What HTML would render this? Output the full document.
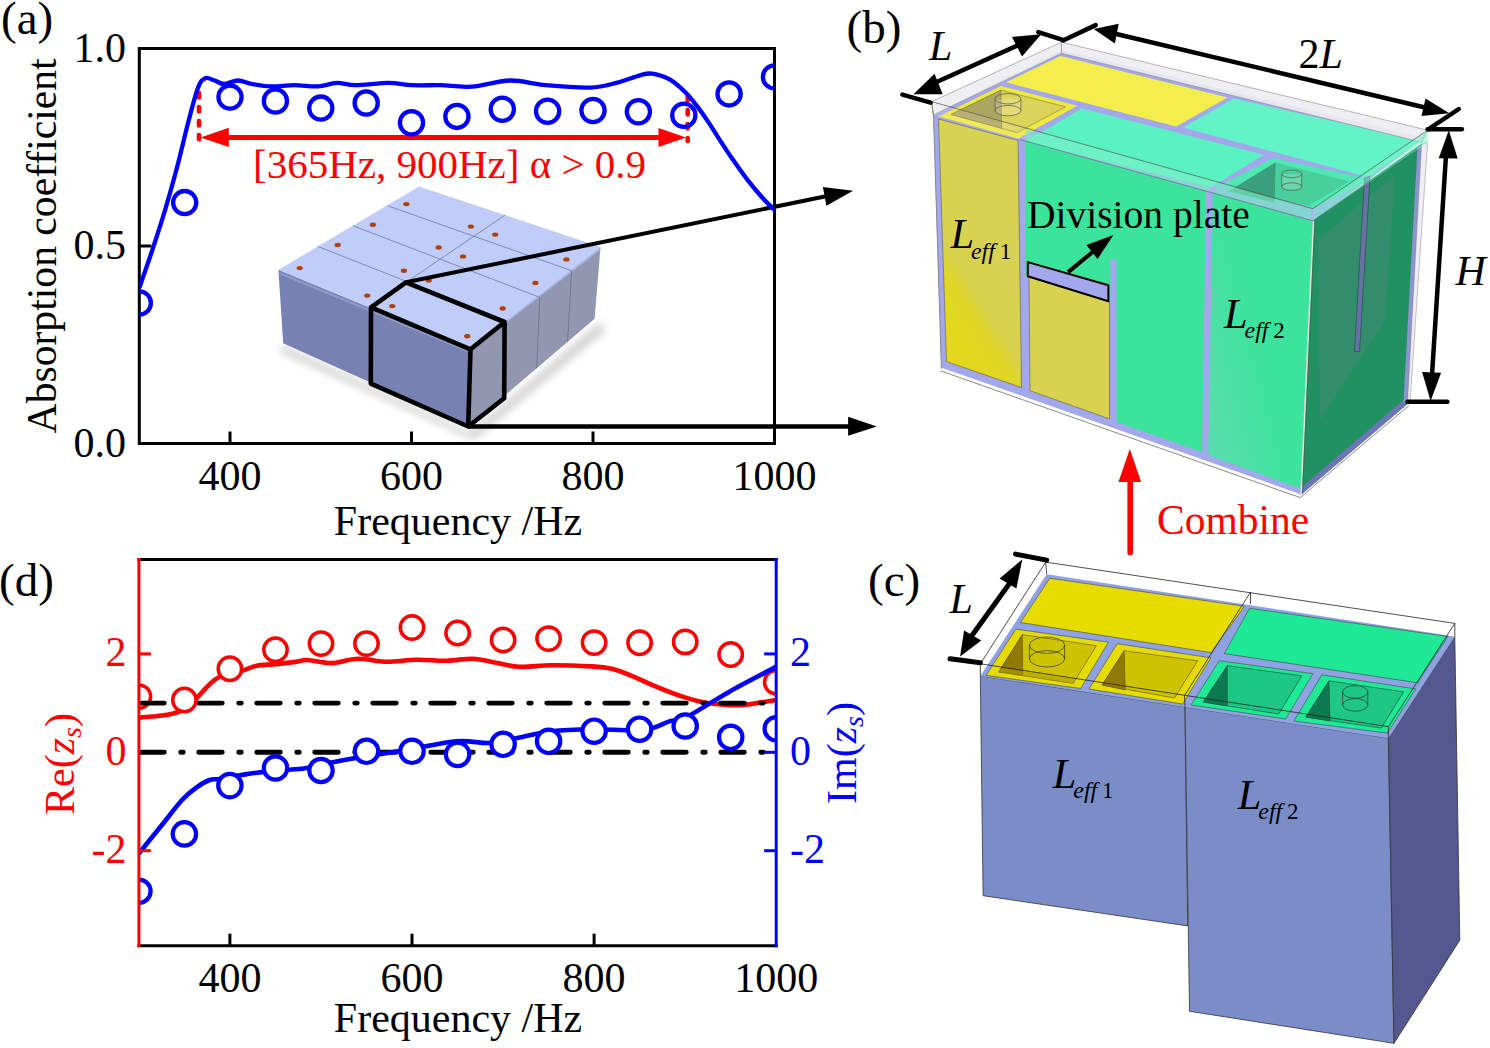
<!DOCTYPE html>
<html><head><meta charset="utf-8"><style>html,body{margin:0;padding:0;background:#fff;}svg{display:block;}</style></head>
<body><svg width="1490" height="1048" viewBox="0 0 1490 1048">
<rect width="1490" height="1048" fill="#fff"/>
<defs><clipPath id="ca"><rect x="139.3" y="48.5" width="635.2" height="395.0"/></clipPath><clipPath id="cd"><rect x="138.9" y="559.4" width="637.3000000000001" height="386.30000000000007"/></clipPath><filter id="blur3" x="-20%" y="-20%" width="140%" height="140%"><feGaussianBlur stdDeviation="4"/></filter><linearGradient id="gy1" gradientUnits="userSpaceOnUse" x1="950" y1="330" x2="1010" y2="292"><stop offset="0" stop-color="#e4d81c"/><stop offset="0.38" stop-color="#e0d626"/><stop offset="0.6" stop-color="#d8d24e"/><stop offset="1" stop-color="#d8d252"/></linearGradient><linearGradient id="gg2" gradientUnits="userSpaceOnUse" x1="1215" y1="420" x2="1290" y2="400"><stop offset="0" stop-color="#56deac"/><stop offset="0.7" stop-color="#3fe29e"/><stop offset="1" stop-color="#3ce49b"/></linearGradient></defs>
<polygon points="283,345 470,432 600,322 606,330 474,440 280,352" fill="#000" opacity="0.18" filter="url(#blur3)"/>
<polygon points="278.4,269.8 470.5,349.3 468.4,426.5 283.2,343.2" fill="#7782b2" />
<polygon points="470.5,349.3 600.5,247 594.6,318.8 468.4,426.5" fill="#9297b0" />
<polygon points="278.4,269.8 419,186.4 600.5,247 470.5,349.3" fill="#bfcdf8" />
<polyline points="279,273 470.5,352" stroke="#8f9bd0" stroke-width="2" fill="none"/>
<polyline points="471.5,348.5 600,249" stroke="#aab6e8" stroke-width="1.6" fill="none"/>
<line x1="317.5" y1="246.3" x2="505" y2="320.2" stroke="#6f7aa8" stroke-width="0.8"/>
<line x1="353.1" y1="225.8" x2="539.8" y2="297.3" stroke="#6f7aa8" stroke-width="0.8"/>
<line x1="387.4" y1="205.7" x2="571.6" y2="270.7" stroke="#6f7aa8" stroke-width="0.8"/>
<line x1="370.5" y1="306.5" x2="505" y2="215.1" stroke="#6f7aa8" stroke-width="0.8"/>
<line x1="539.8" y1="297.3" x2="536.6" y2="368.3" stroke="#6a6f8c" stroke-width="0.8"/>
<line x1="571.6" y1="270.7" x2="567.6" y2="341.8" stroke="#6a6f8c" stroke-width="0.8"/>
<ellipse cx="406.4" cy="204.1" rx="3.1" ry="2.2" fill="#b0400c"/>
<ellipse cx="372.9" cy="224.7" rx="3.1" ry="2.2" fill="#b0400c"/>
<ellipse cx="470.9" cy="226.6" rx="3.1" ry="2.2" fill="#b0400c"/>
<ellipse cx="337.7" cy="245" rx="3.1" ry="2.2" fill="#b0400c"/>
<ellipse cx="438.7" cy="247.5" rx="3.1" ry="2.2" fill="#b0400c"/>
<ellipse cx="495.2" cy="234.6" rx="3.1" ry="2.2" fill="#b0400c"/>
<ellipse cx="463" cy="256.4" rx="3.1" ry="2.2" fill="#b0400c"/>
<ellipse cx="566.4" cy="259.4" rx="3.1" ry="2.2" fill="#b0400c"/>
<ellipse cx="299.7" cy="268.1" rx="3.1" ry="2.2" fill="#b0400c"/>
<ellipse cx="403.9" cy="270.8" rx="3.1" ry="2.2" fill="#b0400c"/>
<ellipse cx="428.7" cy="280.5" rx="3.1" ry="2.2" fill="#b0400c"/>
<ellipse cx="535.4" cy="283" rx="3.1" ry="2.2" fill="#b0400c"/>
<ellipse cx="367.2" cy="295.6" rx="3.1" ry="2.2" fill="#b0400c"/>
<ellipse cx="392.3" cy="306.1" rx="3.1" ry="2.2" fill="#b0400c"/>
<ellipse cx="502.7" cy="308.5" rx="3.1" ry="2.2" fill="#b0400c"/>
<ellipse cx="467.2" cy="336.3" rx="3.1" ry="2.2" fill="#b0400c"/>
<path d="M470.5,349.3 L371,307.4 L406,282.3 L504.6,322 L470.5,349.3 L468.2,426.5 L370.8,383.6 L371,307.4 M504.6,322 L504.2,398.3 L468.2,426.5" fill="none" stroke="#000" stroke-width="4.6" stroke-linejoin="round"/>
<line x1="406" y1="282.3" x2="826" y2="196.3" stroke="#000" stroke-width="4"/>
<polygon points="853.1,190.7 822.9,187 826.4,205.8" fill="#000" />
<line x1="468.2" y1="426.5" x2="850" y2="426.5" stroke="#000" stroke-width="4.5"/>
<polygon points="876.8,426.4 848.1,416.8 848.1,435.8" fill="#000" />
<rect x="139.3" y="48.5" width="635.2" height="395.0" fill="none" stroke="#000" stroke-width="3"/>
<line x1="230" y1="443.5" x2="230" y2="431.5" stroke="#000" stroke-width="3"/>
<line x1="411.5" y1="443.5" x2="411.5" y2="431.5" stroke="#000" stroke-width="3"/>
<line x1="593" y1="443.5" x2="593" y2="431.5" stroke="#000" stroke-width="3"/>
<line x1="139.3" y1="246" x2="151.3" y2="246" stroke="#000" stroke-width="3"/>
<text x="230" y="489.8" font-family="Liberation Serif" font-size="42" text-anchor="middle">400</text>
<text x="411.5" y="489.8" font-family="Liberation Serif" font-size="42" text-anchor="middle">600</text>
<text x="593" y="489.8" font-family="Liberation Serif" font-size="42" text-anchor="middle">800</text>
<text x="774.5" y="489.8" font-family="Liberation Serif" font-size="42" text-anchor="middle">1000</text>
<text x="126" y="61.5" font-family="Liberation Serif" font-size="42" text-anchor="end">1.0</text>
<text x="126" y="259" font-family="Liberation Serif" font-size="42" text-anchor="end">0.5</text>
<text x="126" y="456.5" font-family="Liberation Serif" font-size="42" text-anchor="end">0.0</text>
<text x="458" y="535" font-family="Liberation Serif" font-size="42" text-anchor="middle">Frequency /Hz</text>
<text transform="translate(56.2,245.9) rotate(-90)" font-family="Liberation Serif" font-size="41.65" text-anchor="middle">Absorption coefficient</text>
<text x="1" y="34" font-family="Liberation Serif" font-size="47">(a)</text>
<line x1="199" y1="93" x2="199" y2="139.3" stroke="#f00" stroke-width="4.6" stroke-linecap="round" stroke-dasharray="4.5 9.5"/>
<line x1="687.7" y1="96" x2="687.7" y2="141" stroke="#f00" stroke-width="4.6" stroke-linecap="round" stroke-dasharray="4.5 9.5"/>
<line x1="225" y1="137.5" x2="662" y2="137.5" stroke="#f00" stroke-width="5"/>
<polygon points="200.5,137.4 228.8,127.7 228.8,147.1" fill="#f00" />
<polygon points="686,137.4 658.5,127.9 658.5,146.9" fill="#f00" />
<text x="253" y="178" font-family="Liberation Serif" font-size="41" fill="#f00">[365Hz, 900Hz] α &gt; 0.9</text>
<g clip-path="url(#ca)"><path d="M139.4,287.5 C141.8,280.7 149.2,259.5 153.5,246.5 C157.8,233.5 161.3,222.9 165.2,209.7 C169.1,196.5 173.1,182.4 177,167.5 C180.9,152.6 185.2,133.8 188.7,120.5 C192.2,107.2 195.3,94.6 198.1,87.6 C200.8,80.5 202.4,79.4 205.2,78.2 C207.9,77 211.5,79.5 214.6,80.5 C217.7,81.5 220.1,84 224,84 C227.9,84 233.3,80.5 238,80.5 C242.7,80.5 246.5,83 252,84 C257.5,85 263.9,86.2 271,86.4 C278.1,86.6 286.6,85.2 294.4,85.2 C302.2,85.2 310.9,86.8 318,86.4 C325.1,86 330.4,83.1 336.7,82.9 C342.9,82.7 346.9,85.2 355.5,85.2 C364.1,85.2 379,82.9 388.4,82.9 C397.8,82.9 403.4,84.8 412,85.2 C420.6,85.6 432.2,85 440,85.2 C447.8,85.4 453.1,86.2 459,86.4 C464.9,86.6 466.6,87.4 475.2,86.4 C483.8,85.4 498.8,80.7 510.5,80.5 C522.2,80.3 532.4,84 545.7,85.2 C559,86.4 578.5,88 590.3,87.6 C602,87.2 607.9,85 616.2,82.9 C624.5,80.9 634,76.8 640,75.3 C646,73.8 647.1,72.9 652.2,73.7 C657.3,74.5 664.9,76.7 670.5,79.9 C676.1,83.1 681.2,88.2 685.8,92.8 C690.4,97.4 694.2,102.4 698,107.4 C701.8,112.4 705.1,117.3 708.7,122.6 C712.3,127.9 715.6,133.5 719.4,139.4 C723.2,145.3 727,151.2 731.6,157.8 C736.2,164.4 741.8,172.5 746.9,179.1 C752,185.7 757.4,192.1 762.2,197.5 C767.1,202.9 773.7,209.2 776,211.5" fill="none" stroke="#0000ff" stroke-width="4.3" stroke-linejoin="round"/>
<circle cx="139.3" cy="303" r="11.6" fill="none" stroke="#0000ff" stroke-width="4.3"/>
<circle cx="184.7" cy="202.6" r="11.6" fill="none" stroke="#0000ff" stroke-width="4.3"/>
<circle cx="230" cy="97.1" r="11.6" fill="none" stroke="#0000ff" stroke-width="4.3"/>
<circle cx="275.4" cy="101" r="11.6" fill="none" stroke="#0000ff" stroke-width="4.3"/>
<circle cx="320.8" cy="108.1" r="11.6" fill="none" stroke="#0000ff" stroke-width="4.3"/>
<circle cx="366.2" cy="103" r="11.6" fill="none" stroke="#0000ff" stroke-width="4.3"/>
<circle cx="411.5" cy="122.8" r="11.6" fill="none" stroke="#0000ff" stroke-width="4.3"/>
<circle cx="456.9" cy="116.4" r="11.6" fill="none" stroke="#0000ff" stroke-width="4.3"/>
<circle cx="502.3" cy="109.3" r="11.6" fill="none" stroke="#0000ff" stroke-width="4.3"/>
<circle cx="547.6" cy="111.3" r="11.6" fill="none" stroke="#0000ff" stroke-width="4.3"/>
<circle cx="593" cy="110.5" r="11.6" fill="none" stroke="#0000ff" stroke-width="4.3"/>
<circle cx="638.4" cy="111.7" r="11.6" fill="none" stroke="#0000ff" stroke-width="4.3"/>
<circle cx="683.8" cy="115.3" r="11.6" fill="none" stroke="#0000ff" stroke-width="4.3"/>
<circle cx="729.1" cy="93.9" r="11.6" fill="none" stroke="#0000ff" stroke-width="4.3"/>
<circle cx="774.5" cy="76.9" r="11.6" fill="none" stroke="#0000ff" stroke-width="4.3"/>
</g>
<g clip-path="url(#cd)"><path d="M139.9,717.6 C144.5,717.1 160.1,716.1 167.4,714.7 C174.7,713.4 178.8,712.3 183.7,709.5 C188.6,706.7 192.5,702 196.6,698.1 C200.7,694.2 204.2,689.5 208,686 C211.8,682.5 213.9,679.4 219.3,677 C224.7,674.6 234.2,673.3 240.4,671.4 C246.6,669.5 250.8,666.9 256.7,665.7 C262.6,664.5 269.4,664.8 276.1,664.1 C282.9,663.4 292.1,662.3 297.2,661.6 C302.3,660.9 301.2,659.8 307,660 C312.8,660.2 323.2,663.3 331.7,663.1 C340.2,662.9 348.7,658.9 357.8,658.7 C366.9,658.5 376.4,661.5 386.1,661.7 C395.9,661.9 406.2,659.9 416.3,659.7 C426.4,659.5 437.1,660.9 446.5,660.7 C455.9,660.5 465.3,658.5 472.7,658.7 C480.1,658.9 483.1,660.4 490.8,661.7 C498.5,663.1 508.9,666.2 519,666.8 C529.1,667.4 539.1,665.3 551.2,665.2 C563.3,665.1 581.4,665.8 591.5,666.4 C601.6,667 604.9,667.2 611.6,668.8 C618.3,670.4 625,673.1 631.7,675.8 C638.4,678.5 643.8,681.5 651.9,684.9 C660,688.3 671.8,693.1 680.6,696 C689.4,698.9 695.4,700.9 704.8,702.4 C714.2,703.9 727.7,705.2 737.1,705.2 C746.5,705.2 754.8,703.3 761.3,702.4 C767.8,701.5 773.5,700.4 776,700" fill="none" stroke="#ff0000" stroke-width="4.6"/>
<circle cx="138.9" cy="696.6" r="11.7" fill="#fff" stroke="#ff0000" stroke-width="3.5"/>
<line x1="140.75" y1="703.1" x2="776.2" y2="703.1" stroke="#000" stroke-width="4.9" stroke-linecap="round" stroke-dasharray="23.5 16.5 2.5 15.5"/>
<line x1="140.75" y1="752.3" x2="776.2" y2="752.3" stroke="#000" stroke-width="4.9" stroke-linecap="round" stroke-dasharray="23.5 16.5 2.5 15.5"/>
<circle cx="184.4" cy="700" r="11.7" fill="#fff" stroke="#ff0000" stroke-width="3.5"/>
<circle cx="229.9" cy="668.8" r="11.7" fill="#fff" stroke="#ff0000" stroke-width="3.5"/>
<circle cx="275.5" cy="649.7" r="11.7" fill="#fff" stroke="#ff0000" stroke-width="3.5"/>
<circle cx="321" cy="643.6" r="11.7" fill="#fff" stroke="#ff0000" stroke-width="3.5"/>
<circle cx="366.5" cy="643.6" r="11.7" fill="#fff" stroke="#ff0000" stroke-width="3.5"/>
<circle cx="412" cy="627.5" r="11.7" fill="#fff" stroke="#ff0000" stroke-width="3.5"/>
<circle cx="457.6" cy="633" r="11.7" fill="#fff" stroke="#ff0000" stroke-width="3.5"/>
<circle cx="503.1" cy="640" r="11.7" fill="#fff" stroke="#ff0000" stroke-width="3.5"/>
<circle cx="548.6" cy="638.6" r="11.7" fill="#fff" stroke="#ff0000" stroke-width="3.5"/>
<circle cx="594.1" cy="642.6" r="11.7" fill="#fff" stroke="#ff0000" stroke-width="3.5"/>
<circle cx="639.6" cy="642.7" r="11.7" fill="#fff" stroke="#ff0000" stroke-width="3.5"/>
<circle cx="685.2" cy="641.9" r="11.7" fill="#fff" stroke="#ff0000" stroke-width="3.5"/>
<circle cx="730.7" cy="654.5" r="11.7" fill="#fff" stroke="#ff0000" stroke-width="3.5"/>
<circle cx="776.2" cy="682.3" r="11.7" fill="#fff" stroke="#ff0000" stroke-width="3.5"/>
<path d="M138.4,854 C142.1,849.5 153.2,835.8 160.5,826.8 C167.8,817.8 176,806.6 182,800 C188,793.4 192,790.6 196.6,787.3 C201.2,784 205.8,781.4 209.6,780 C213.4,778.6 214.2,779.8 219.3,779 C224.4,778.2 234.2,776.2 240.4,775.2 C246.6,774.2 248.6,773.6 256.7,772.7 C264.8,771.8 280.7,770.6 289.1,769.8 C297.5,769 301.6,768.8 307,767.9 C312.4,767 315.8,765.6 321.6,764.4 C327.4,763.1 334.3,761.7 341.7,760.4 C349.1,759.1 354.5,758.2 365.9,756.4 C377.3,754.5 395.2,751.8 410.3,749.3 C425.4,746.8 443.2,742.4 456.6,741.3 C470,740.2 480.1,743.6 490.8,742.9 C501.5,742.2 510.9,739.2 521,737.2 C531.1,735.2 539.5,732.5 551.2,731.2 C563,729.9 578.1,729.4 591.5,729.2 C604.9,729 621.6,730.4 631.7,730.2 C641.8,730 645.5,729.7 651.9,728.2 C658.3,726.7 664.4,722.9 670,721.1 C675.6,719.4 675.7,722.6 685.5,717.7 C695.3,712.8 713.9,700.4 729,691.9 C744.1,683.4 768.2,671.1 776,666.9" fill="none" stroke="#0000ff" stroke-width="4.6"/>
<circle cx="138.9" cy="891.3" r="11.7" fill="#fff" stroke="#0000ff" stroke-width="4.2"/>
<circle cx="184.4" cy="833.9" r="11.7" fill="#fff" stroke="#0000ff" stroke-width="4.2"/>
<circle cx="229.9" cy="785.6" r="11.7" fill="#fff" stroke="#0000ff" stroke-width="4.2"/>
<circle cx="275.5" cy="768" r="11.7" fill="#fff" stroke="#0000ff" stroke-width="4.2"/>
<circle cx="321" cy="770.5" r="11.7" fill="#fff" stroke="#0000ff" stroke-width="4.2"/>
<circle cx="366.5" cy="751.3" r="11.7" fill="#fff" stroke="#0000ff" stroke-width="4.2"/>
<circle cx="412" cy="751.3" r="11.7" fill="#fff" stroke="#0000ff" stroke-width="4.2"/>
<circle cx="457.6" cy="754.4" r="11.7" fill="#fff" stroke="#0000ff" stroke-width="4.2"/>
<circle cx="503.1" cy="744.3" r="11.7" fill="#fff" stroke="#0000ff" stroke-width="4.2"/>
<circle cx="548.6" cy="741.3" r="11.7" fill="#fff" stroke="#0000ff" stroke-width="4.2"/>
<circle cx="594.1" cy="731.2" r="11.7" fill="#fff" stroke="#0000ff" stroke-width="4.2"/>
<circle cx="639.6" cy="729.2" r="11.7" fill="#fff" stroke="#0000ff" stroke-width="4.2"/>
<circle cx="685.2" cy="726" r="11.7" fill="#fff" stroke="#0000ff" stroke-width="4.2"/>
<circle cx="730.7" cy="737.3" r="11.7" fill="#fff" stroke="#0000ff" stroke-width="4.2"/>
<circle cx="776.2" cy="728.8" r="11.7" fill="#fff" stroke="#0000ff" stroke-width="4.2"/>
</g>
<line x1="137.4" y1="559.4" x2="777.7" y2="559.4" stroke="#000" stroke-width="3"/>
<line x1="137.4" y1="945.7" x2="777.7" y2="945.7" stroke="#000" stroke-width="3"/>
<line x1="138.9" y1="557.9" x2="138.9" y2="947.2" stroke="#ff0000" stroke-width="3"/>
<line x1="776.2" y1="557.9" x2="776.2" y2="947.2" stroke="#0000ff" stroke-width="3"/>
<line x1="229.9" y1="945.7" x2="229.9" y2="933.7" stroke="#000" stroke-width="3"/>
<line x1="412" y1="945.7" x2="412" y2="933.7" stroke="#000" stroke-width="3"/>
<line x1="594.1" y1="945.7" x2="594.1" y2="933.7" stroke="#000" stroke-width="3"/>
<line x1="138.9" y1="653.9" x2="150.9" y2="653.9" stroke="#ff0000" stroke-width="3"/>
<line x1="776.2" y1="653.9" x2="764.2" y2="653.9" stroke="#0000ff" stroke-width="3"/>
<line x1="776.2" y1="752.3" x2="764.2" y2="752.3" stroke="#0000ff" stroke-width="3"/>
<line x1="138.9" y1="850.7" x2="150.9" y2="850.7" stroke="#ff0000" stroke-width="3"/>
<line x1="776.2" y1="850.7" x2="764.2" y2="850.7" stroke="#0000ff" stroke-width="3"/>
<text x="126.5" y="666.1" font-family="Liberation Serif" font-size="42" text-anchor="end" fill="#ff0000">2</text>
<text x="790" y="666.1" font-family="Liberation Serif" font-size="42" fill="#0000ff">2</text>
<text x="126.5" y="764.5" font-family="Liberation Serif" font-size="42" text-anchor="end" fill="#ff0000">0</text>
<text x="790" y="764.5" font-family="Liberation Serif" font-size="42" fill="#0000ff">0</text>
<text x="126.5" y="862.9" font-family="Liberation Serif" font-size="42" text-anchor="end" fill="#ff0000">-2</text>
<text x="790" y="862.9" font-family="Liberation Serif" font-size="42" fill="#0000ff">-2</text>
<text x="229.9" y="991.5" font-family="Liberation Serif" font-size="42" text-anchor="middle">400</text>
<text x="412" y="991.5" font-family="Liberation Serif" font-size="42" text-anchor="middle">600</text>
<text x="594.1" y="991.5" font-family="Liberation Serif" font-size="42" text-anchor="middle">800</text>
<text x="776.2" y="991.5" font-family="Liberation Serif" font-size="42" text-anchor="middle">1000</text>
<text x="458" y="1032" font-family="Liberation Serif" font-size="42" text-anchor="middle">Frequency /Hz</text>
<text x="-1" y="596" font-family="Liberation Serif" font-size="47">(d)</text>
<text transform="translate(74,764) rotate(-90)" font-family="Liberation Serif" font-size="42" text-anchor="middle" fill="#ff0000">Re(<tspan font-style="italic">z</tspan><tspan font-style="italic" font-size="28" dy="7">s</tspan><tspan dy="-7">)</tspan></text>
<text transform="translate(856,753) rotate(-90)" font-family="Liberation Serif" font-size="42" text-anchor="middle" fill="#0000ff">Im(<tspan font-style="italic">z</tspan><tspan font-style="italic" font-size="28" dy="7">s</tspan><tspan dy="-7">)</tspan></text>

<polygon points="933,115.3 1061.5,50 1424,138 1313,221.3" fill="#a3a8ec" />
<polygon points="938.7,116.5 1001,85.9 1077.3,105.8 1018.2,138.5" fill="#f0e83e" />
<polygon points="951.1,114.4 1001,90.2 1065.5,106.8 1017.1,132.6" fill="#dcd45a" stroke="#6a6430" stroke-width="0.5" stroke-linejoin="round" />
<polygon points="951.1,114.4 1001,90.2 1001.6,128.3" fill="#aca660" stroke="#6a6430" stroke-width="0.4" stroke-linejoin="round" />
<polygon points="1006.1,82.3 1060.5,56.1 1227.6,97.4 1176.2,126.6" fill="#f3ee4c" />
<polygon points="1025.2,141.7 1081.6,108.5 1263.8,154.8 1211.5,187" fill="#5af2c0" />
<polygon points="1183.3,127.6 1233.6,98.4 1420,141 1367.5,177" fill="#62f4c6" />
<polygon points="1220.5,185.2 1272.9,158 1369.5,179.1 1313.1,208.3" fill="#4fe8b2" />
<polygon points="1228.3,191.6 1275.6,162.4 1349.1,181.5 1308.9,205.7" fill="#48cf9c" />
<polygon points="1228.3,191.6 1275.6,162.4 1274.6,202.7" fill="#3a9f7c" />
<polygon points="1025.5,129 1209.5,180.7 1209.5,191.2 1025.5,139.9" fill="#5aecbb" opacity="0.6"/>
<polygon points="1215.5,182.3 1311.5,209.3 1311.5,219.7 1215.5,192.9" fill="#58e8b6" opacity="0.6"/>
<path d="M995.1,98.8 L995.1,110.6 A12.9,5.2 0 0 0 1020.9,110.6 L1020.9,98.8 Z" fill="#ffffff" opacity="0.18"/><path d="M995.1,98.8 L995.1,110.6 M1020.9,98.8 L1020.9,110.6" stroke="#555" stroke-width="0.7" fill="none"/><ellipse cx="1008" cy="98.8" rx="12.9" ry="5.2" fill="none" stroke="#555" stroke-width="0.7"/><ellipse cx="1008" cy="110.6" rx="12.9" ry="5.2" fill="none" stroke="#555" stroke-width="0.7"/>
<path d="M1281.7,173.9 L1281.7,186.6 A10,3.8 0 0 0 1301.7,186.6 L1301.7,173.9 Z" fill="#ffffff" opacity="0.18"/><path d="M1281.7,173.9 L1281.7,186.6 M1301.7,173.9 L1301.7,186.6" stroke="#555" stroke-width="0.7" fill="none"/><ellipse cx="1291.7" cy="173.9" rx="10" ry="3.8" fill="none" stroke="#555" stroke-width="0.7"/><ellipse cx="1291.7" cy="186.6" rx="10" ry="3.8" fill="none" stroke="#555" stroke-width="0.7"/>
<polygon points="931.6,101.6 1061.5,42.2 1061.5,53.3 933,115" fill="#ececf2" stroke="#888" stroke-width="0.6" stroke-linejoin="round" fill-opacity="0.9"/>
<polygon points="1061.5,42.2 1427.6,130.2 1421.6,142.3 1061.5,53.3" fill="#ececf2" stroke="#888" stroke-width="0.6" stroke-linejoin="round" fill-opacity="0.9"/>
<polygon points="933.2,115.1 1312.9,220.8 1300.4,495.2 941.4,368.6" fill="#a3a8ec" />
<polygon points="938.5,119 1018,140.5 1021.5,387.5 946.5,361.5" fill="url(#gy1)" stroke="#4a4a3a" stroke-width="0.5" stroke-linejoin="round" />
<polygon points="1025,141.5 1206,191.5 1202,452 1116.6,421.9 1110.5,300 1025,276" fill="#3ce49b" />
<polygon points="1029,277 1109.5,301.5 1109.5,418.9 1030,390.7" fill="#d8d250" stroke="#4a4a3a" stroke-width="0.5" stroke-linejoin="round" />
<polygon points="1110.4,259 1116.4,259.5 1116.6,422 1110,420" fill="#a3a8ec" />
<polygon points="1027.8,262.1 1108.4,285.2 1108.4,301.3 1027.8,276.2" fill="#a3a8ec" stroke="#000" stroke-width="2" stroke-linejoin="round" />
<polygon points="1213,193.5 1312.5,221.5 1300.5,488.5 1208.5,455" fill="#3ce49b" />
<polygon points="1213,193.5 1312.5,221.5 1300.5,488.5 1208.5,455" fill="url(#gg2)" />
<polyline points="941.4,368.6 1300.4,495.2 1407.5,403.9" fill="none" stroke="#fff" stroke-width="2"/>
<polyline points="940.5,370.8 1300.2,497.6 1409,405.5" fill="none" stroke="#8a8a8a" stroke-width="1"/>
<polygon points="1312.9,220.8 1421.6,144.3 1407.5,403.9 1300.4,495.2" fill="#229162" />
<polygon points="1318,240 1395,175 1385,320 1320,420" fill="#3a8c70" opacity="0.75"/>
<polygon points="1300.4,495.2 1407.5,403.9 1407,397 1301,488" fill="#6e74b8" />
<polygon points="1364.5,178 1370,176 1359.5,351.5 1354.5,351.4" fill="#6870a4" stroke="#1f4a48" stroke-width="0.6" stroke-linejoin="round" />
<polygon points="1417.5,147 1421.6,144.3 1407.5,403.9 1403.5,402" fill="#8e92d0" />
<polygon points="1421.6,144.3 1427.6,142.3 1410,403 1407.5,403.9" fill="#eeeef4" stroke="#888" stroke-width="0.5" stroke-linejoin="round" />
<line x1="1313.5" y1="221" x2="1301" y2="495" stroke="#d8e8e0" stroke-width="1.6"/><line x1="1315" y1="221" x2="1302.5" y2="494" stroke="#555" stroke-width="0.6"/><polygon points="931.6,101.6 1312.9,208.7 1312.9,220.8 933,115" fill="#ffffff" fill-opacity="0.12"/>
<polygon points="1312.9,208.7 1427.6,130.2 1427.6,142.3 1312.9,220.8" fill="#7cf0c8" fill-opacity="0.55"/>
<polyline points="931.6,101.6 1312.9,208.7 1427.6,130.2" fill="none" stroke="#555" stroke-width="0.7"/>
<polyline points="1020,139.5 1312.9,220.8 1421.6,144.3" fill="none" stroke="#2a6a60" stroke-width="0.8" opacity="0.7"/>
<polyline points="931.6,101.6 933.5,115 941.4,368.6" fill="none" stroke="#888" stroke-width="1"/>
<g stroke="#000" stroke-width="4.5" stroke-linecap="round"><line x1="902.4" y1="94.6" x2="930.6" y2="102.6"/><line x1="1038.3" y1="32.1" x2="1063.5" y2="40.2"/><line x1="1063.5" y1="40.2" x2="1095.7" y2="25.1"/><line x1="930" y1="85" x2="1025" y2="42"/><line x1="1110" y1="32.5" x2="1426" y2="107.7"/><line x1="1428.6" y1="129.2" x2="1458.8" y2="109"/><line x1="1427.6" y1="129.2" x2="1461.9" y2="129.2"/><line x1="1407.5" y1="401.8" x2="1447.4" y2="401.8"/><line x1="1446" y1="155" x2="1432" y2="375"/></g>
<polygon points="913.5,94.2 934.5,73.8 942.7,94.2" fill="#000" />
<polygon points="1041.3,34.2 1022,56.5 1012,36.9" fill="#000" />
<polygon points="1093.7,29.1 1118.7,23.8 1114.9,43.4" fill="#000" />
<polygon points="1449.5,113.2 1421.5,116 1425.5,98.4" fill="#000" />
<polygon points="1448.8,130.2 1457.7,158.6 1438.7,158.2" fill="#000" />
<polygon points="1430.6,401 1422.1,372.1 1441.1,372.7" fill="#000" />
<line x1="1130.2" y1="478" x2="1130.2" y2="552.5" stroke="#f00" stroke-width="5.6" stroke-linecap="round"/><polygon points="1129.8,448.9 1118.5,481.9 1141.1,481.9" fill="#f00" />
<text x="1157" y="534.4" font-family="Liberation Serif" font-size="41.5" fill="#f00">Combine</text>
<line x1="1068.1" y1="272.1" x2="1095" y2="250" stroke="#000" stroke-width="4"/><polygon points="1113.4,234.9 1097.6,259 1086.4,245" fill="#000" />
<polygon points="980.3,675.9 1185,707 1187.7,925.9 983.1,895.7" fill="#7a8dc9" stroke="#333" stroke-width="0.8" stroke-linejoin="round" />
<polygon points="1185,707 1388.4,738.2 1394,1043.3 1189.5,1011.3" fill="#7a8dc9" stroke="#333" stroke-width="0.8" stroke-linejoin="round" />
<polygon points="1388.4,738.2 1454.8,636.5 1459.8,940.2 1394,1043.3" fill="#54588f" stroke="#333" stroke-width="0.8" stroke-linejoin="round" />
<polygon points="980.3,675.9 1046.7,574.2 1454.8,636.5 1388.4,738.2" fill="#8ea2e4" />
<polygon points="1020.5,622.5 1049.7,578.3 1244.4,606.3 1211,652.6" fill="#e6dc00" stroke="#444" stroke-width="0.6" stroke-linejoin="round" />
<polygon points="986.1,675.4 1015.8,629.1 1108.4,642.2 1080.7,688.5" fill="#e6dc00" stroke="#444" stroke-width="0.6" stroke-linejoin="round" />
<polygon points="998.7,671.9 1022.3,634.6 1096.3,645.7 1073.2,683.5" fill="#cdc300" stroke="#5a4a00" stroke-width="0.6" stroke-linejoin="round" />
<polygon points="1022.3,634.6 998.7,671.9 1022.8,675.4" fill="#8f7a08" stroke="#5a4a00" stroke-width="0.5" stroke-linejoin="round" />
<polygon points="998.7,671.9 1073.2,683.5 1074,679 1000,668" fill="#b0a000" opacity="0.6"/>
<polygon points="1089,689 1117.2,643.7 1210.8,657.8 1182.6,704.1" fill="#e6dc00" stroke="#444" stroke-width="0.6" stroke-linejoin="round" />
<polygon points="1102.1,685 1124.2,650.7 1197.7,660.8 1174.5,698" fill="#cdc300" stroke="#5a4a00" stroke-width="0.6" stroke-linejoin="round" />
<polygon points="1124.2,650.7 1102.1,685 1125.2,690" fill="#8f7a08" stroke="#5a4a00" stroke-width="0.5" stroke-linejoin="round" />
<polygon points="1224.3,653.6 1249.5,608.3 1447.8,636.5 1417.6,682.8" fill="#1eea96" stroke="#444" stroke-width="0.6" stroke-linejoin="round" />
<polygon points="1191,705 1219.3,660.7 1312.9,673.7 1285.7,719" fill="#1eea96" stroke="#444" stroke-width="0.6" stroke-linejoin="round" />
<polygon points="1203.2,702 1227.3,665.7 1301.8,675.8 1278.7,714" fill="#1fc785" stroke="#0a4a30" stroke-width="0.6" stroke-linejoin="round" />
<polygon points="1227.3,665.7 1203.2,702 1227.3,706" fill="#0c7a50" stroke="#0a4a30" stroke-width="0.5" stroke-linejoin="round" />
<polygon points="1293.8,721.1 1321.9,674.8 1415.6,688.9 1387.4,733.1" fill="#1eea96" stroke="#444" stroke-width="0.6" stroke-linejoin="round" />
<polygon points="1305.8,717 1329,680.8 1403.5,691.9 1381.3,728.1" fill="#1fc785" stroke="#0a4a30" stroke-width="0.6" stroke-linejoin="round" />
<polygon points="1329,680.8 1305.8,717 1330,721" fill="#0c7a50" stroke="#0a4a30" stroke-width="0.5" stroke-linejoin="round" />
<path d="M1029.4,645.2 L1029.4,658.8000000000001 M1064.6,645.2 L1064.6,658.8000000000001" stroke="#333" stroke-width="0.7" fill="none"/><ellipse cx="1047" cy="645.2" rx="17.6" ry="8.2" fill="none" stroke="#333" stroke-width="0.7"/><ellipse cx="1047" cy="658.8000000000001" rx="17.6" ry="8.2" fill="none" stroke="#333" stroke-width="0.7"/>
<path d="M1342.6000000000001,691.9 L1342.6000000000001,704.9 M1367.8,691.9 L1367.8,704.9" stroke="#333" stroke-width="0.7" fill="none"/><ellipse cx="1355.2" cy="691.9" rx="12.6" ry="6.3" fill="none" stroke="#333" stroke-width="0.7"/><ellipse cx="1355.2" cy="704.9" rx="12.6" ry="6.3" fill="none" stroke="#333" stroke-width="0.7"/>
<path d="M980.3,663.8 L1045.7,562.1 L1454.8,623.4 L1454.8,636.5 M980.3,663.8 L1388.4,726.7 L1454.8,623.4 M980.3,663.8 L980.3,675.9 M1045.7,562.1 L1046.7,574.2 M1250.5,592.2 L1250.5,604 M1250.5,592.2 L1184.5,695.5 L1185,707 M1388.4,726.7 L1388.4,738.2" fill="none" stroke="#222" stroke-width="0.8"/>
<g stroke="#000" stroke-width="5" stroke-linecap="round"><line x1="1015.5" y1="554.1" x2="1046.7" y2="560.1"/><line x1="950" y1="658.8" x2="980.3" y2="662.8"/><line x1="1012" y1="580" x2="968" y2="641"/></g><polygon points="1022.3,559.3 1016.4,588.5 999.6,578.5" fill="#000" />
<polygon points="960.1,656.5 964.1,630.4 981.3,640.6" fill="#000" />
<text x="950.4" y="248.4" font-family="Liberation Serif" font-size="42.5" font-style="italic">L</text><text x="970.9" y="258.7" font-family="Liberation Serif" font-size="24" font-style="italic">eff</text><text x="999.6999999999999" y="258.7" font-family="Liberation Serif" font-size="23">1</text>
<text x="1224.0" y="328.1" font-family="Liberation Serif" font-size="42.5" font-style="italic">L</text><text x="1244.5" y="338.3" font-family="Liberation Serif" font-size="24" font-style="italic">eff</text><text x="1273.3" y="338.3" font-family="Liberation Serif" font-size="23">2</text>
<text x="1052.8" y="788" font-family="Liberation Serif" font-size="42.5" font-style="italic">L</text><text x="1073.3" y="798.3" font-family="Liberation Serif" font-size="24" font-style="italic">eff</text><text x="1102.1" y="798.3" font-family="Liberation Serif" font-size="23">1</text>
<text x="1237.8" y="808.7" font-family="Liberation Serif" font-size="42.5" font-style="italic">L</text><text x="1258.3" y="819.2" font-family="Liberation Serif" font-size="24" font-style="italic">eff</text><text x="1287.1" y="819.2" font-family="Liberation Serif" font-size="23">2</text>
<text x="846.5" y="42.5" font-family="Liberation Serif" font-size="47">(b)</text>
<text x="868" y="596" font-family="Liberation Serif" font-size="47">(c)</text>
<text x="929" y="59.8" font-family="Liberation Serif" font-size="42" font-style="italic">L</text>
<text x="949.5" y="613" font-family="Liberation Serif" font-size="42" font-style="italic">L</text>
<text x="1298.5" y="67.9" font-family="Liberation Serif" font-size="42">2<tspan font-style="italic">L</tspan></text>
<text x="1455.5" y="284.8" font-family="Liberation Serif" font-size="42" font-style="italic">H</text>
<text x="1027" y="227.5" font-family="Liberation Serif" font-size="39.5">Division plate</text>

</svg></body></html>
